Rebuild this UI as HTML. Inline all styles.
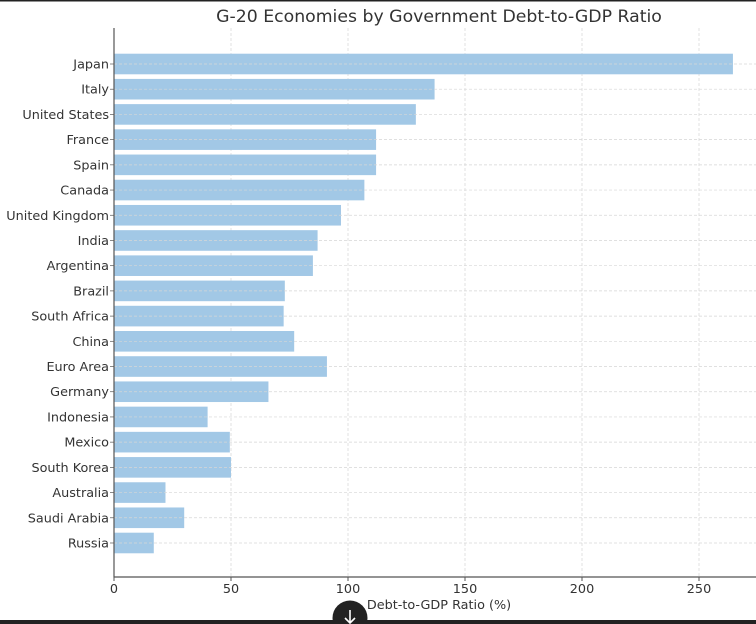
<!DOCTYPE html>
<html><head><meta charset="utf-8"><style>
html,body{margin:0;padding:0;background:#fff;width:756px;height:624px;overflow:hidden;font-family:"DejaVu Sans","Liberation Sans",sans-serif;}
</style></head><body>
<svg width="756" height="624" xmlns="http://www.w3.org/2000/svg" font-family="DejaVu Sans, Liberation Sans, sans-serif">
<rect x="0" y="0" width="756" height="1.5" fill="#222"/>
<text x="439" y="22" font-size="17.3" fill="#333" text-anchor="middle">G-20 Economies by Government Debt-to-GDP Ratio</text>
<g stroke="#d6d6d6" stroke-width="0.7" stroke-dasharray="3,2">
<line x1="231" y1="28" x2="231" y2="577"/><line x1="348" y1="28" x2="348" y2="577"/><line x1="465" y1="28" x2="465" y2="577"/><line x1="582" y1="28" x2="582" y2="577"/><line x1="699" y1="28" x2="699" y2="577"/>
</g>
<g id="bars" fill="#a2c8e6"></g>
<g id="hg" stroke="#d6d6d6" stroke-width="0.7" stroke-dasharray="3,2"></g>
<g id="labels" font-size="12.8" fill="#333" text-anchor="end"></g>
<line x1="114" y1="28" x2="114" y2="577.5" stroke="#555" stroke-width="1.2"/>
<line x1="113.5" y1="577" x2="756" y2="577" stroke="#555" stroke-width="1.2"/>
<g font-size="12.8" fill="#333" text-anchor="middle">
<text x="114" y="593">0</text><text x="231" y="593">50</text><text x="348" y="593">100</text><text x="465" y="593">150</text><text x="582" y="593">200</text><text x="699" y="593">250</text>
<text x="439" y="609">Debt-to-GDP Ratio (%)</text>
</g>
<g stroke="#555" stroke-width="1"><line x1="231" y1="577" x2="231" y2="581"/><line x1="348" y1="577" x2="348" y2="581"/><line x1="465" y1="577" x2="465" y2="581"/><line x1="582" y1="577" x2="582" y2="581"/><line x1="699" y1="577" x2="699" y2="581"/><line x1="114" y1="577" x2="114" y2="581"/></g>
<rect x="0" y="620" width="756" height="4" fill="#222"/>
<circle cx="350" cy="618" r="17.5" fill="#222"/>
<path d="M350 610 L350 623 M345 618 L350 623 L355 618" stroke="#fff" stroke-width="1.6" fill="none"/>
</svg>
<script>
var d=[["Japan",264.5],["Italy",137],["United States",129],["France",112],["Spain",112],["Canada",107],["United Kingdom",97],["India",87],["Argentina",85],["Brazil",73],["South Africa",72.5],["China",77],["Euro Area",91],["Germany",66],["Indonesia",40],["Mexico",49.5],["South Korea",50],["Australia",22],["Saudi Arabia",30],["Russia",17]];
var ns="http://www.w3.org/2000/svg",b=document.getElementById("bars"),h=document.getElementById("hg"),l=document.getElementById("labels");
d.forEach(function(r,i){var c=64+i*25.21;
var e=document.createElementNS(ns,"rect");e.setAttribute("x",114);e.setAttribute("y",c-10.3);e.setAttribute("width",r[1]*2.34);e.setAttribute("height",20.6);b.appendChild(e);
var g=document.createElementNS(ns,"line");g.setAttribute("x1",114);g.setAttribute("x2",756);g.setAttribute("y1",c);g.setAttribute("y2",c);h.appendChild(g);
var k=document.createElementNS(ns,"line");k.setAttribute("x1",110);k.setAttribute("x2",114);k.setAttribute("y1",c);k.setAttribute("y2",c);k.setAttribute("stroke","#555");k.setAttribute("stroke-dasharray","none");h.appendChild(k);
var t=document.createElementNS(ns,"text");t.setAttribute("x",109);t.setAttribute("y",c+4.5);t.textContent=r[0];l.appendChild(t);});
</script>
</body></html>
